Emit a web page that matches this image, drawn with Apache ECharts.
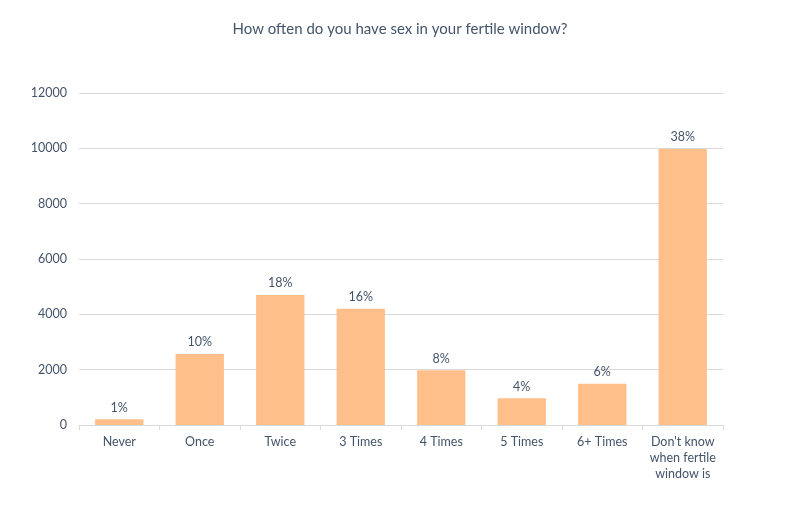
<!DOCTYPE html>
<html><head><meta charset="utf-8">
<script src="https://cdn.jsdelivr.net/npm/echarts@6/dist/echarts.min.js"></script>
<style>html,body{margin:0;padding:0;background:#fff}#c{width:800px;height:513px}</style>
</head><body><div id="c"></div>
<script>
const categories = ["Never", "Once", "Twice", "3 Times", "4 Times", "5 Times", "6+ Times", "Don't know\nwhen fertile\nwindow is"];
const counts = [210, 2570, 4700, 4200, 1980, 965, 1495, 9980];
const percents = ["1%", "10%", "18%", "16%", "8%", "4%", "6%", "38%"];
const yTicks = [0, 2000, 4000, 6000, 8000, 10000, 12000];

const chart = echarts.init(document.getElementById('c'));
const txt = '#44546A';
const font = 'Lato, "Open Sans", sans-serif';
chart.setOption({
  animation: false,
  title: {
    text: 'How often do you have sex in your fertile window?',
    left: 'center', top: 17,
    textStyle: { fontFamily: font, fontSize: 15, fontWeight: 'normal', color: txt }
  },
  grid: { left: 79, right: 77, top: 93, bottom: 88, containLabel: false },
  xAxis: {
    type: 'category', data: categories,
    axisLine: { lineStyle: { color: '#D9D9D9' } },
    axisTick: { show: true, length: 5, lineStyle: { color: '#D9D9D9' } },
    axisLabel: { fontFamily: font, fontSize: 12.5, color: txt, margin: 9, lineHeight: 16, interval: 0 }
  },
  yAxis: {
    type: 'value', min: yTicks[0], max: yTicks[yTicks.length - 1], interval: 2000,
    axisLine: { show: false }, axisTick: { show: false },
    axisLabel: { fontFamily: font, fontSize: 12.5, color: txt, margin: 12, formatter: v => String(v) },
    splitLine: { lineStyle: { color: '#D9D9D9' } }
  },
  series: [{
    type: 'bar', data: counts, barWidth: '60%',
    itemStyle: { color: '#FFBF8B' },
    label: {
      show: true, position: 'top', distance: 5,
      fontFamily: font, fontSize: 12.5, color: txt,
      formatter: p => percents[p.dataIndex]
    }
  }]
});
</script></body></html>
